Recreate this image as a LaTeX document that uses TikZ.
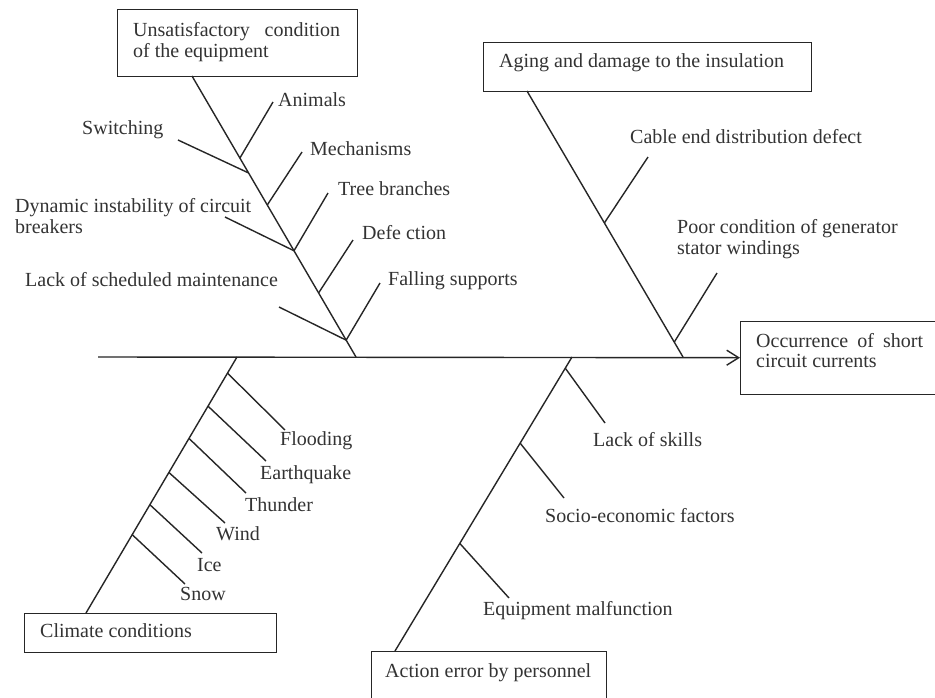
\documentclass[tikz,border=0pt]{standalone}
\usepackage{fontspec}
\setmainfont{Liberation Serif}
\usetikzlibrary{arrows.meta,calc}
\begin{document}
\begin{tikzpicture}[x=1pt,y=-1pt,
  bone/.style={line width=1.4pt,draw=black!85},
  boxnode/.style={draw=black!85,line width=1.4pt,rectangle,inner sep=0pt,anchor=north west},
  lbl/.style={anchor=base west,inner sep=0pt,font=\fontsize{20}{21}\selectfont,text=black!80}]
\clip (0,0) rectangle (935,697);
\fill[white] (0,0) rectangle (935,697);
% boxes
\node[boxnode,minimum width=240pt,minimum height=67pt] (b1) at (117,9) {};
\node[boxnode,minimum width=328pt,minimum height=49pt] (b2) at (483,42) {};
\node[boxnode,minimum width=220pt,minimum height=73pt] (b3) at (740,320.5) {};
\node[boxnode,minimum width=252pt,minimum height=39pt] (b4) at (24,613) {};
\node[boxnode,minimum width=235pt,minimum height=80pt] (b5) at (370.5,651) {};
% box texts
\node[lbl] (t1a) at (133,36) {\makebox[207pt][s]{Unsatisfactory \ condition}};
\node[lbl] (t1b) at (133,57) {of the equipment};
\node[lbl] (t2) at (499,67) {Aging and damage to the insulation};
\node[lbl] (t3a) at (756,347) {\makebox[167pt][s]{Occurrence of short}};
\node[lbl] (t3b) at (756,367) {circuit currents};
\node[lbl] (t4) at (40,637) {Climate conditions};
\node[lbl] (t5) at (385,677) {Action error by personnel};
% spine
\coordinate (sL) at (98,357);
\draw[bone,-{Straight Barb[length=12pt,width=15pt,line width=1.4pt]}] (sL) -- (b3.west);
% main bones
\coordinate (j1) at (356,357);
\coordinate (j2) at (683,357);
\coordinate (j3) at (237,357);
\coordinate (j4) at (572,357);
\coordinate (e1) at (192,76);
\coordinate (e2) at (527,91);
\coordinate (e3) at (86,613);
\coordinate (e4) at (395,651);
\draw[bone] (e1) -- (j1);
\draw[bone] (e2) -- (j2);
\draw[bone] (j3) -- (e3);
\draw[bone] (j4) -- (e4);
% upper-left sub bones
\draw[bone] ($(e1)!0.292!(j1)$) -- (273,102);
\draw[bone] (178,140) -- ($(e1)!0.345!(j1)$);
\draw[bone] ($(e1)!0.459!(j1)$) -- (302,152);
\draw[bone] (225,217) -- ($(e1)!0.622!(j1)$);
\draw[bone] ($(e1)!0.622!(j1)$) -- (328,193);
\draw[bone] ($(e1)!0.772!(j1)$) -- (353,240);
\draw[bone] (279,307) -- ($(e1)!0.940!(j1)$);
\draw[bone] ($(e1)!0.940!(j1)$) -- (380,283);
% upper-left labels
\node[lbl] (l1) at (278,106) {Animals};
\node[lbl] (l2) at (82,134) {Switching};
\node[lbl] (l3) at (310,155) {Mechanisms};
\node[lbl] (l4) at (338,195) {Tree branches};
\node[lbl] (l5) at (15,212) {Dynamic instability of circuit};
\node[lbl] (l5b) at (15,233) {breakers};
\node[lbl] (l6) at (362,239) {Defe ction};
\node[lbl] (l7) at (25,286) {Lack of scheduled maintenance};
\node[lbl] (l8) at (388,285) {Falling supports};
% upper-right sub bones
\draw[bone] ($(e2)!0.496!(j2)$) -- (648,157);
\draw[bone] ($(e2)!0.944!(j2)$) -- (717,273);
\node[lbl] (l9) at (630,143) {Cable end distribution defect};
\node[lbl] (l10) at (677,233) {Poor condition of generator};
\node[lbl] (l10b) at (677,254) {stator windings};
% lower-left sub bones
\draw[bone] ($(j3)!0.063!(e3)$) -- (285,430);
\draw[bone] ($(j3)!0.192!(e3)$) -- (266,461);
\draw[bone] ($(j3)!0.318!(e3)$) -- (246,493);
\draw[bone] ($(j3)!0.451!(e3)$) -- (225,523);
\draw[bone] ($(j3)!0.577!(e3)$) -- (202,553);
\draw[bone] ($(j3)!0.694!(e3)$) -- (185,584);
\node[lbl] (l11) at (280,445) {Flooding};
\node[lbl] (l12) at (260,479) {Earthquake};
\node[lbl] (l13) at (245,511) {Thunder};
\node[lbl] (l14) at (216,540) {Wind};
\node[lbl] (l15) at (197,571) {Ice};
\node[lbl] (l16) at (180,600) {Snow};
% lower-right sub bones
\draw[bone] ($(j4)!0.038!(e4)$) -- (605,423);
\draw[bone] ($(j4)!0.293!(e4)$) -- (564,498);
\draw[bone] ($(j4)!0.634!(e4)$) -- (509,598);
\node[lbl] (l17) at (593,446) {Lack of skills};
\node[lbl] (l18) at (545,522) {Socio-economic factors};
\node[lbl] (l19) at (483,615) {Equipment malfunction};
\end{tikzpicture}
\end{document}
